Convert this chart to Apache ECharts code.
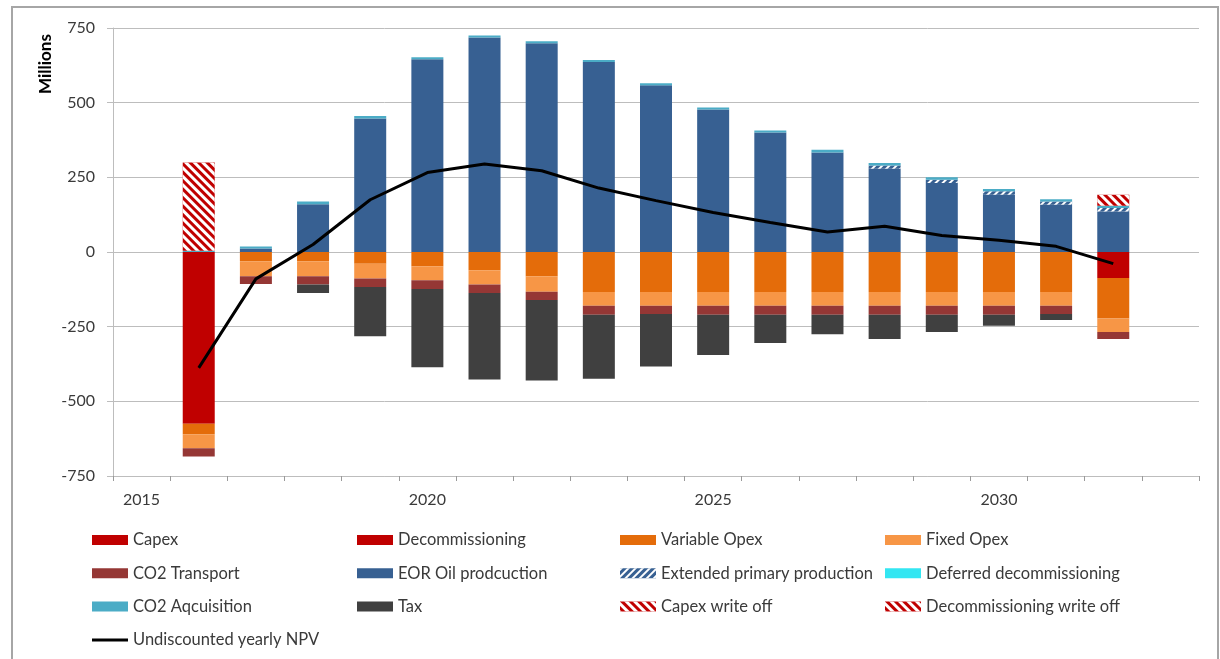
<!DOCTYPE html>
<html>
<head>
<meta charset="utf-8">
<script src="https://cdn.jsdelivr.net/npm/echarts@6/dist/echarts.min.js"></script>
<style>
  html, body { margin: 0; padding: 0; background: #ffffff; }
  #chart { width: 1220px; height: 659px; }
</style>
</head>
<body>
<div id="chart"></div>
<script>
// Yearly cash-flow components of the EOR project (millions)
const years = ['2015','2016','2017','2018','2019','2020','2021','2022','2023','2024',
               '2025','2026','2027','2028','2029','2030','2031','2032','2033'];

const capex          = [null,-575,null,null,null,null,null,null,null,null,null,null,null,null,null,null,null,null,null];
const decommissioning= [null,null,null,null,null,null,null,null,null,null,null,null,null,null,null,null,null,-87,null];
const variableOpex   = [null,-35,-31,-31,-39,-48,-61,-81,-134,-134,-134,-134,-134,-134,-134,-134,-134,-136,null];
const fixedOpex      = [null,-47,-50,-50,-50,-47,-48,-52,-46,-46,-46,-46,-46,-46,-46,-46,-46,-45,null];
const co2Transport   = [null,-28,-26,-28,-28,-29,-28,-28,-30,-28,-30,-30,-30,-30,-30,-30,-28,-23,null];
const eorOil         = [null,null,12,160,447,645,718,699,636,558,477,400,333,279,231,192,158,136,null];
const extendedPrimary= [null,null,null,null,null,null,null,null,null,null,null,null,null,11,11,11,11,11,null];
const deferredDecom  = [null,null,null,null,null,null,null,null,null,null,null,null,null,null,null,null,null,null,null];
const co2Acquisition = [null,4,6,9,8,7,7,7,7,7,7,7,9,8,8,8,8,8,null];
const tax            = [null,null,null,-28,-165,-262,-290,-269,-214,-175,-135,-95,-65,-81,-58,-37,-20,null,null];
const capexWriteOff  = [null,296,null,null,null,null,null,null,null,null,null,null,null,null,null,null,null,null,null];
const decomWriteOff  = [null,null,null,null,null,null,null,null,null,null,null,null,null,null,null,null,null,37,null];
const yearlyNPV      = [null,-388,-90,25,175,266,295,272,214,172,132,99,67,86,55,39,19,-39,null];

const yTicks = { min: -750, max: 750, interval: 250 };

const FONT = 'Lato, "Open Sans", sans-serif';
const TEXT = '#3a3a3a';
const GRID = '#bdbdbd';

function hatch(rotation, dashY) {
  return { symbol: 'rect', symbolSize: 1, color: '#ffffff',
           dashArrayX: [1, 0], dashArrayY: dashY, rotation: rotation };
}

function bar(name, data, color, decal) {
  const s = { name, type: 'bar', stack: 'cash', data, barWidth: 32,
              itemStyle: { color } };
  if (decal) s.itemStyle.decal = decal;
  return s;
}

const series = [
  bar('Capex', capex, '#c00000'),
  bar('Decommissioning', decommissioning, '#c00000'),
  bar('Variable Opex', variableOpex, '#e46c0a'),
  bar('Fixed Opex', fixedOpex, '#f79646'),
  bar('CO2 Transport', co2Transport, '#953735'),
  bar('EOR Oil prodcuction', eorOil, '#376092'),
  bar('Extended primary production', extendedPrimary, '#376092', hatch(-Math.PI / 4, [2, 3])),
  bar('Deferred decommissioning', deferredDecom, '#33e6f2'),
  bar('CO2 Aqcuisition', co2Acquisition, '#4bacc6'),
  bar('Tax', tax, '#404040'),
  bar('Capex write off', capexWriteOff, '#c00000', hatch(Math.PI / 4, [3, 3])),
  bar('Decommissioning write off', decomWriteOff, '#c00000', hatch(Math.PI / 4, [3, 3])),
  { name: 'Undiscounted yearly NPV', type: 'line', data: yearlyNPV, symbol: 'none',
    lineStyle: { color: '#000000', width: 3 }, itemStyle: { color: '#000000' }, z: 5 }
];

function legendCol(left, names) {
  return {
    orient: 'vertical', left: left, top: 531, padding: 0,
    itemWidth: 36, itemHeight: 10, itemGap: 15.3,
    selectedMode: false,
    data: names.map(n => n === 'Undiscounted yearly NPV'
      ? { name: n, icon: 'path://M0 0H36V3H0Z', itemStyle: { color: '#000000' } }
      : { name: n, icon: 'rect' }),
    textStyle: { fontFamily: FONT, fontSize: 16.5, color: TEXT, lineHeight: 18 }
  };
}

const chart = echarts.init(document.getElementById('chart'), null, { renderer: 'canvas' });
chart.setOption({
  animation: false,
  backgroundColor: '#ffffff',
  grid: { left: 113, right: 21, top: 28, bottom: 183, containLabel: false },
  xAxis: {
    type: 'category', data: years,
    axisLine: { onZero: false, lineStyle: { color: GRID, width: 1 } },
    axisTick: { show: true, interval: 0, alignWithLabel: false, length: 5, lineStyle: { color: '#9a9a9a' } },
    axisLabel: { interval: 4, margin: 16, fontFamily: FONT, fontSize: 16, color: TEXT },
    splitLine: { show: false }
  },
  yAxis: {
    type: 'value', min: yTicks.min, max: yTicks.max, interval: yTicks.interval,
    axisLine: { show: true, lineStyle: { color: GRID, width: 1 } },
    axisTick: { show: true, length: 6, lineStyle: { color: GRID } },
    axisLabel: { margin: 18, fontFamily: FONT, fontSize: 16, color: TEXT },
    splitLine: { show: true, lineStyle: { color: GRID, width: 1 } }
  },
  legend: [
    legendCol(92, ['Capex', 'CO2 Transport', 'CO2 Aqcuisition', 'Undiscounted yearly NPV']),
    legendCol(357, ['Decommissioning', 'EOR Oil prodcuction', 'Tax']),
    legendCol(620, ['Variable Opex', 'Extended primary production', 'Capex write off']),
    legendCol(885, ['Fixed Opex', 'Deferred decommissioning', 'Decommissioning write off'])
  ],
  graphic: [
    { type: 'rect', silent: true, z: -10,
      shape: { x: 12, y: 7, width: 1206, height: 680 },
      style: { fill: 'none', stroke: '#a6a6a6', lineWidth: 2 } },
    { type: 'text', silent: true, x: 46, y: 64, rotation: Math.PI / 2,
      style: { text: 'Millions', font: 'bold 17px ' + FONT, fill: '#000000',
               textAlign: 'center', textVerticalAlign: 'middle' } }
  ],
  series: series
});
</script>
</body>
</html>
